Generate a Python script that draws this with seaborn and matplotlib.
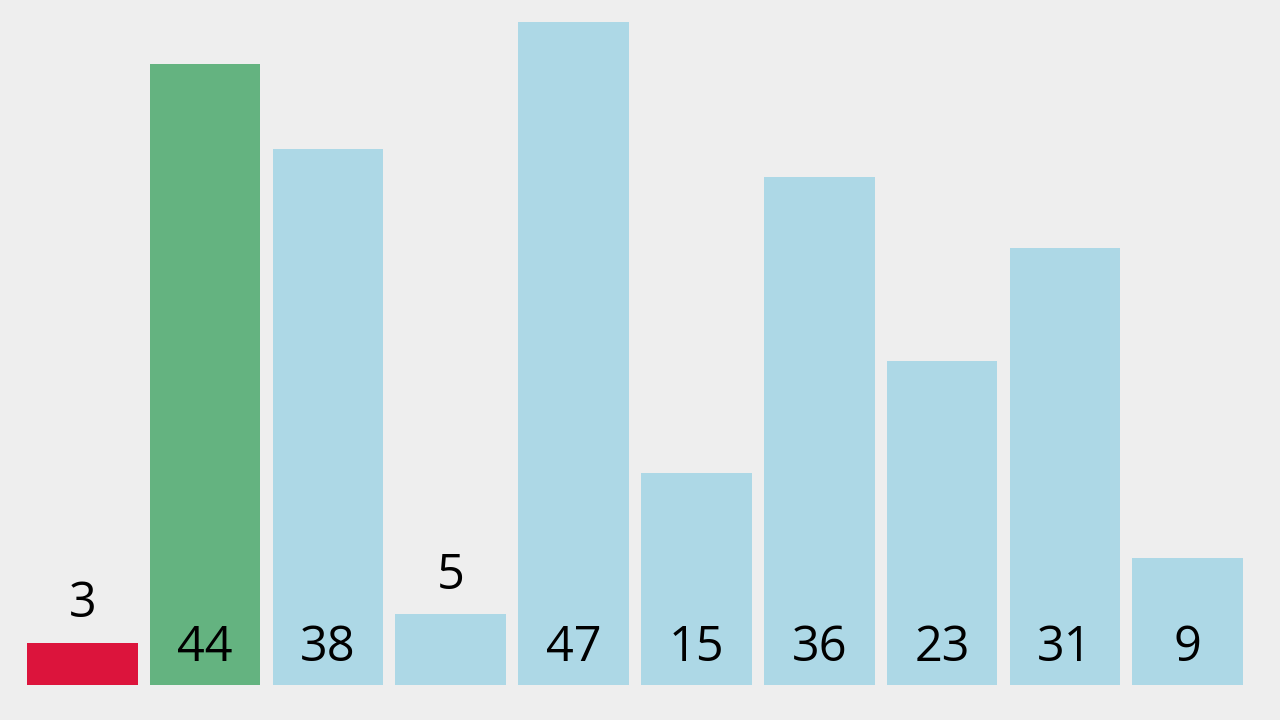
import seaborn as sns
import matplotlib.pyplot as plt
import pandas as pd

# valores das barras
posicoes = [str(i) for i in range(10)]
valores = [3, 44, 38, 5, 47, 15, 36, 23, 31, 9]
cores = ['#dc143c', '#64b380', '#add8e6', '#add8e6', '#add8e6',
         '#add8e6', '#add8e6', '#add8e6', '#add8e6', '#add8e6']

dados = pd.DataFrame({'pos': posicoes, 'valor': valores})

sns.set_style('white')
plt.rcParams['font.family'] = ['Open Sans', 'DejaVu Sans']

fig = plt.figure(figsize=(12.8, 7.2), dpi=100, facecolor='#eeeeee')
ax = fig.add_axes([27 / 1280, 35 / 720, 1216 / 1280, 663 / 720])
ax.set_facecolor('#eeeeee')

sns.barplot(x='pos', y='valor', hue='pos', data=dados, palette=cores,
            width=0.9, legend=False, saturation=1, linewidth=0, ax=ax)

ax.set_xlim(-0.45, 9.45)
ax.set_ylim(0, 47)
ax.axis('off')

# rótulos: dentro da barra, ou acima quando a barra é muito baixa
for i, v in enumerate(valores):
    if v < 7:
        ax.annotate(str(v), (i, v), xytext=(0, 32), textcoords='offset points',
                    ha='center', va='center_baseline', fontsize=35, color='black')
    else:
        ax.annotate(str(v), (i, 0), xytext=(0, 31), textcoords='offset points',
                    ha='center', va='center_baseline', fontsize=35, color='black')

fig.savefig('out.png', dpi=100, facecolor='#eeeeee')
